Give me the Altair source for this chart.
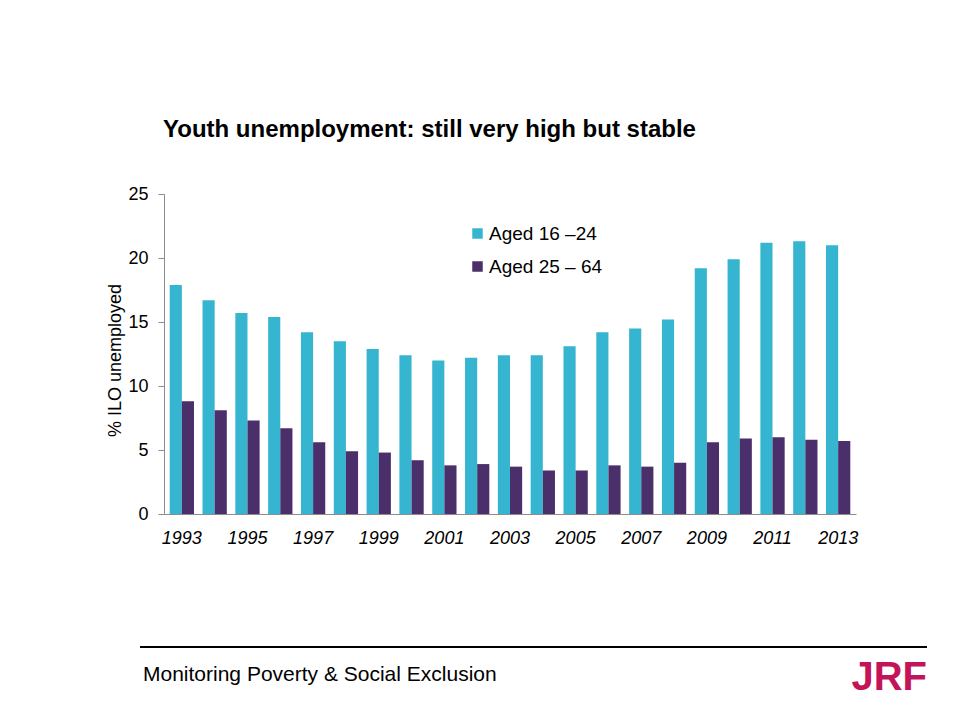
import altair as alt
import pandas as pd

years = [str(y) for y in range(1993, 2014)]
youth = [17.9, 16.7, 15.7, 15.4, 14.2, 13.5, 12.9, 12.4, 12.0, 12.2, 12.4, 12.4,
         13.1, 14.2, 14.5, 15.2, 19.2, 19.9, 21.2, 21.3, 21.0]
adult = [8.8, 8.1, 7.3, 6.7, 5.6, 4.9, 4.8, 4.2, 3.8, 3.9, 3.7, 3.4,
         3.4, 3.8, 3.7, 4.0, 5.6, 5.9, 6.0, 5.8, 5.7]
groups = ["Aged 16 \u201324", "Aged 25 \u2013 64"]
tick_years = [str(y) for y in range(1993, 2014, 2)]
colors = ["#35b5d0", "#4a2f6a"]

rows = []
for i, y in enumerate(years):
    rows.append({"year": y, "group": groups[0], "value": youth[i]})
    rows.append({"year": y, "group": groups[1], "value": adult[i]})
df = pd.DataFrame(rows)

FONT = "Liberation Sans"

bars = alt.Chart(df).mark_bar().encode(
    x=alt.X("year:N", sort=years,
            scale=alt.Scale(paddingInner=0.26, paddingOuter=0.174),
            axis=alt.Axis(title=None, values=tick_years, labelAngle=0,
                          ticks=False, labelFontStyle="italic", labelFontSize=18,
                          labelPadding=15, labelColor="#000000",
                          domainColor="#8c8c8c", labelFont=FONT)),
    xOffset=alt.XOffset("group:N", sort=groups),
    y=alt.Y("value:Q", scale=alt.Scale(domain=[0, 25], nice=False),
            axis=alt.Axis(title="% ILO unemployed", values=[0, 5, 10, 15, 20, 25],
                          grid=False, tickSize=6, tickColor="#8c8c8c",
                          domainColor="#8c8c8c", labelFontSize=18, labelPadding=10,
                          labelColor="#000000", labelFont=FONT,
                          titleFont=FONT, titleFontSize=18, titleFontWeight="normal",
                          titleColor="#000000", titleAngle=-90,
                          titleX=-49, titleY=166, titleAlign="center",
                          titleBaseline="middle")),
    color=alt.Color("group:N", sort=groups,
                    scale=alt.Scale(domain=groups, range=colors),
                    legend=alt.Legend(title=None, orient="none", legendX=304,
                                      legendY=30, symbolType="square",
                                      symbolSize=110, symbolStrokeWidth=0,
                                      labelFontSize=19, labelFont=FONT,
                                      labelColor="#000000", rowPadding=13,
                                      symbolOffset=0, labelOffset=2)),
)

tdf = pd.DataFrame({"t": ["Youth unemployment: still very high but stable"]})
title = alt.Chart(tdf).mark_text(
    align="left", baseline="alphabetic", fontSize=24, fontWeight="bold",
    font=FONT, color="#000000"
).encode(x=alt.value(-1), y=alt.value(-57), text="t:N")

fdf = pd.DataFrame({"t": ["Monitoring Poverty & Social Exclusion"]})
footer = alt.Chart(fdf).mark_text(
    align="left", baseline="alphabetic", fontSize=21, font=FONT, color="#000000"
).encode(x=alt.value(-21), y=alt.value(487), text="t:N")

jdf = pd.DataFrame({"t": ["JRF"]})
jrf = alt.Chart(jdf).mark_text(
    align="right", baseline="alphabetic", fontSize=40, fontWeight="bold",
    font=FONT, color="#c3145a"
).encode(x=alt.value(763), y=alt.value(496), text="t:N")

rule = alt.Chart(jdf).mark_rule(color="#000000", strokeWidth=2).encode(
    x=alt.value(-24), x2=alt.value(763), y=alt.value(453)
)

chart = alt.layer(bars, title, footer, jrf, rule).properties(
    width=692, height=320,
    autosize=alt.AutoSizeParams(type="none"),
    padding={"left": 156, "top": 186, "right": 96, "bottom": 190},
    background="#ffffff",
).configure_view(stroke=None)

chart.save("out.html", embed_options={"renderer": "svg", "actions": False})
